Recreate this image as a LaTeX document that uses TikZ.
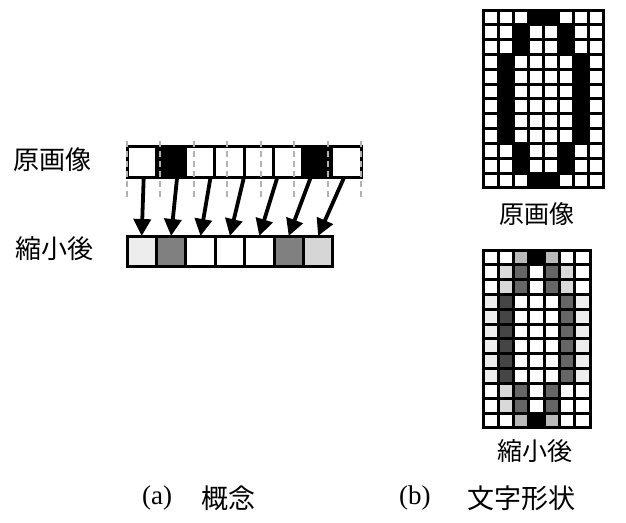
\documentclass[tikz,border=0pt]{standalone}
\usepackage{fontspec}
\newfontfamily\jp{Noto Sans CJK JP}
\newfontfamily\ser{Liberation Serif}
\usetikzlibrary{arrows.meta}
\begin{document}
\begin{tikzpicture}[x=1pt,y=-1pt,
  cellline/.style={draw=black,line width=3pt},
  guide/.style={draw=gray!60,line width=2pt,dash pattern=on 6pt off 4pt},
  mapar/.style={draw=black,line width=3.8pt,-{Triangle[length=17pt,width=17pt]}},
  lbl/.style={font=\jp\fontsize{26}{26}\selectfont,inner sep=0pt,anchor=west},
  captext/.style={font=\jp\fontsize{27}{27}\selectfont,inner sep=0pt,anchor=west},
  capser/.style={font=\ser\fontsize{27}{27}\selectfont,inner sep=0pt,anchor=west},
  bcell/.style={cellline,minimum width=29.4pt,minimum height=30pt,inner sep=0pt,outer sep=0pt}]
\useasboundingbox (0,0) rectangle (626,522);
\fill[white] (0,0) rectangle (626,522);

% ---------- (a) concept ----------
\node[lbl] (lo) at (13,160) {原画像};
\node[lbl] (lr) at (15,249) {縮小後};

% original strip: 8 cells
\foreach \v [count=\c from 0] in {0,1,0,0,0,0,1,0}{
  \pgfmathsetmacro{\xa}{127+29.25*\c}
  \pgfmathsetmacro{\xb}{127+29.25*(\c+1)}
  \ifnum\v=1 \fill[black] (\xa,146) rectangle (\xb,177); \else \fill[white] (\xa,146) rectangle (\xb,177); \fi
  \draw[cellline] (\xa,146) rectangle (\xb,177);
}
% dashed guides
\foreach \k in {0,...,7}{
  \pgfmathsetmacro{\xg}{127+33.43*\k}
  \draw[guide] (\xg,141) -- (\xg,198);
}
% reduced strip: 7 cells
\foreach \g [count=\c from 0] in {7,50,0,0,0,50,16}{
  \node[bcell,fill=black!\g] (b\c) at ({127+29.4*(\c+0.5)},251) {};
}
% arrows
\foreach \c in {0,...,6}{
  \coordinate (t\c) at ({127+33.43*(\c+0.5)},177);
  \draw[mapar] (t\c) -- (b\c.north);
}

% ---------- (b) glyph ----------
% original 8x12
\foreach \r/\pat in {0/{0,0,0,1,1,0,0,0},1/{0,0,1,0,0,1,0,0},2/{0,0,1,0,0,1,0,0},
  3/{0,1,0,0,0,0,1,0},4/{0,1,0,0,0,0,1,0},5/{0,1,0,0,0,0,1,0},6/{0,1,0,0,0,0,1,0},
  7/{0,1,0,0,0,0,1,0},8/{0,1,0,0,0,0,1,0},9/{0,0,1,0,0,1,0,0},10/{0,0,1,0,0,1,0,0},
  11/{0,0,0,1,1,0,0,0}}{
  \foreach \v [count=\c from 0] in \pat {
    \pgfmathsetmacro{\xa}{483+15*\c}
    \pgfmathsetmacro{\ya}{10+14.83*\r}
    \ifnum\v=1 \fill[black] (\xa,\ya) rectangle ++(15,14.83); \fi
    \draw[cellline] (\xa,\ya) rectangle ++(15,14.83);
  }
}
% reduced 7x12
\foreach \r/\pat in {0/{0,0,27,100,27,0,0},1/{0,15,60,0,60,15,0},2/{0,15,60,0,60,15,0},
  3/{7,73,0,0,0,60,7},4/{7,73,0,0,0,60,7},5/{7,73,0,0,0,60,7},6/{7,73,0,0,0,60,7},
  7/{7,73,0,0,0,60,7},8/{7,73,0,0,0,60,7},9/{0,15,60,0,60,0,0},10/{0,15,60,0,60,0,0},
  11/{0,0,27,100,27,0,0}}{
  \foreach \v [count=\c from 0] in \pat {
    \pgfmathsetmacro{\xa}{483+15.29*\c}
    \pgfmathsetmacro{\ya}{250+14.83*\r}
    \fill[black!\v] (\xa,\ya) rectangle ++(15.29,14.83);
    \draw[cellline] (\xa,\ya) rectangle ++(15.29,14.83);
  }
}
\node[lbl,font=\jp\fontsize{25}{25}\selectfont] (ro) at (499,214) {原画像};
\node[lbl,font=\jp\fontsize{25}{25}\selectfont] (rr) at (497,451) {縮小後};

% captions
\node[capser] (ca) at (142,498) {(a)};
\node[captext] (cat) at (201,498) {概念};
\node[capser] (cb) at (399,498) {(b)};
\node[captext] (cbt) at (467,498) {文字形状};
\end{tikzpicture}
\end{document}
